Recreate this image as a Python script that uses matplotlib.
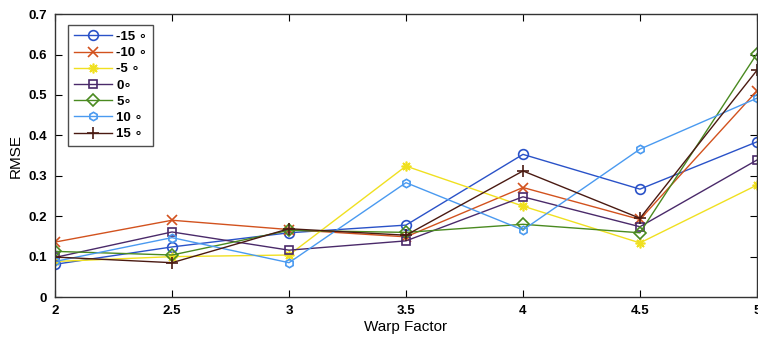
import matplotlib
matplotlib.use("Agg")
import matplotlib.pyplot as plt

plt.rcParams['font.family'] = ['Liberation Sans', 'DejaVu Sans']

warp = [2, 2.5, 3, 3.5, 4, 4.5, 5]
labels = ["-15 \u2218", "-10 \u2218", "-5 \u2218", "0\u2218", "5\u2218", "10 \u2218", "15 \u2218"]
rmse_m15 = [0.081, 0.124, 0.159, 0.178, 0.353, 0.267, 0.384]
rmse_m10 = [0.136, 0.190, 0.167, 0.149, 0.271, 0.192, 0.510]
rmse_m5 = [0.088, 0.100, 0.104, 0.324, 0.225, 0.134, 0.277]
rmse_0 = [0.098, 0.161, 0.116, 0.139, 0.248, 0.174, 0.339]
rmse_5 = [0.113, 0.104, 0.165, 0.160, 0.180, 0.159, 0.602]
rmse_10 = [0.088, 0.147, 0.085, 0.283, 0.166, 0.366, 0.492]
rmse_15 = [0.099, 0.085, 0.169, 0.153, 0.312, 0.195, 0.561]

series = [rmse_m15, rmse_m10, rmse_m5, rmse_0, rmse_5, rmse_10, rmse_15]
colors = ['#2a52c8', '#d2521e', '#f0e020', '#4a2a6a', '#4a8a20', '#4a9af0', '#4a1a12']
markers = ['o', 'x', (8, 2, 0), 's', 'D', 'h', '+']
msizes = [7, 7, 7, 6, 6, 6, 9]

fig = plt.figure(figsize=(7.58, 3.45), dpi=100)
ax = fig.add_axes([0.0726, 0.139, 0.926, 0.820])

for y, c, m, lab, ms in zip(series, colors, markers, labels, msizes):
    ax.plot(warp, y, color=c, marker=m, markersize=ms, markerfacecolor='none',
            markeredgecolor=c, markeredgewidth=1.2, linewidth=1.0, label=lab)

ax.set_xlim(2, 5)
ax.set_ylim(0, 0.7)
ax.set_xticks([2, 2.5, 3, 3.5, 4, 4.5, 5])
ax.set_xticklabels(['2', '2.5', '3', '3.5', '4', '4.5', '5'])
ax.set_yticks([0, 0.1, 0.2, 0.3, 0.4, 0.5, 0.6, 0.7])
ax.set_yticklabels(['0', '0.1', '0.2', '0.3', '0.4', '0.5', '0.6', '0.7'])
ax.tick_params(direction='in', top=True, right=True, length=5, labelsize=9.5, pad=6)
for t in ax.get_xticklabels() + ax.get_yticklabels():
    t.set_fontweight('bold')
for s in ax.spines.values():
    s.set_linewidth(1.0)
    s.set_color('#333333')
ax.set_xlabel('Warp Factor', fontsize=11, labelpad=2)
ax.set_ylabel('RMSE', fontsize=11, labelpad=4)

leg = ax.legend(loc='upper left', bbox_to_anchor=(0.018, 0.962), borderaxespad=0,
                frameon=True, fancybox=False,
                edgecolor='#222222', handlelength=2.9, labelspacing=0.3,
                borderpad=0.45, handletextpad=0.35, prop={'weight': 'bold', 'size': 9.5})
leg.get_frame().set_linewidth(1.0)

fig.savefig('out.png', dpi=100)
